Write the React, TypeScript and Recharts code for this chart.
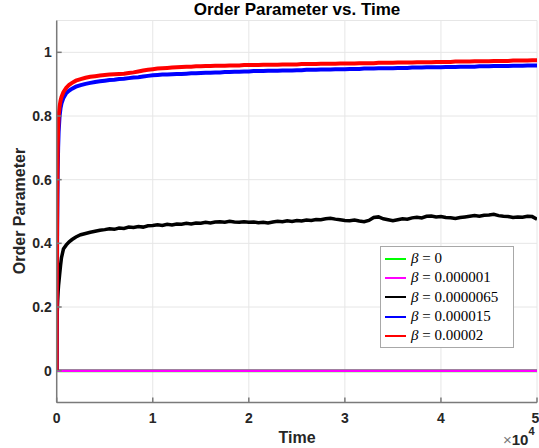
import React from 'react';
import { LineChart, Line, XAxis, YAxis, CartesianGrid, Legend } from 'recharts';

const time = [
  0, 20, 50, 100, 150, 200, 300, 400, 500, 700, 1000, 1300, 1600, 2000, 2500, 3000, 3500, 4000, 4500,
  5000, 5500, 6000, 6500, 7000, 7500, 8000, 8500, 9000, 9500,
  10000, 10500, 11000, 11500, 12000, 12500, 13000, 13500, 14000, 14500,
  15000, 15500, 16000, 16500, 17000, 17500, 18000, 18500, 19000, 19500,
  20000, 20500, 21000, 21500, 22000, 22500, 23000, 23500, 24000, 24500,
  25000, 25500, 26000, 26500, 27000, 27500, 28000, 28500, 29000, 29500,
  30000, 30500, 31000, 31500, 32000, 32500, 33000, 33500, 34000, 34500,
  35000, 35500, 36000, 36500, 37000, 37500, 38000, 38500, 39000, 39500,
  40000, 40500, 41000, 41500, 42000, 42500, 43000, 43500, 44000, 44500,
  45000, 45500, 46000, 46500, 47000, 47500, 48000, 48500, 49000, 49500,
  50000,
];

const black = [
  0, 0.12, 0.18, 0.22, 0.25, 0.27, 0.30, 0.33, 0.355, 0.382, 0.395, 0.405, 0.412, 0.420, 0.427, 0.431, 0.435, 0.438, 0.441,
  0.443, 0.446, 0.444, 0.448, 0.447, 0.451, 0.450, 0.453, 0.451, 0.455,
  0.456, 0.458, 0.456, 0.460, 0.458, 0.461, 0.460, 0.463, 0.461, 0.464,
  0.463, 0.466, 0.464, 0.467, 0.468, 0.466, 0.469, 0.467, 0.466, 0.468,
  0.466, 0.467, 0.465, 0.466, 0.464, 0.467, 0.469, 0.468, 0.471, 0.469,
  0.472, 0.470, 0.473, 0.472, 0.475, 0.474, 0.477, 0.479, 0.476, 0.474,
  0.472, 0.471, 0.473, 0.470, 0.468, 0.472, 0.481, 0.483, 0.477, 0.474,
  0.471, 0.474, 0.477, 0.476, 0.480, 0.482, 0.480, 0.485, 0.486, 0.483,
  0.484, 0.481, 0.480, 0.478, 0.481, 0.483, 0.485, 0.487, 0.485, 0.488,
  0.489, 0.491, 0.487, 0.485, 0.484, 0.481, 0.483, 0.482, 0.485, 0.484,
  0.476,
];

const blue = [
  0, 0.22, 0.45, 0.62, 0.70, 0.75, 0.80, 0.825, 0.84, 0.857, 0.872, 0.880, 0.886, 0.892, 0.897, 0.901, 0.904, 0.907, 0.909,
  0.911, 0.913, 0.914, 0.916, 0.917, 0.919, 0.921, 0.922, 0.924, 0.926,
  0.928, 0.929, 0.930, 0.930, 0.931, 0.932, 0.932, 0.933, 0.934, 0.934,
  0.935, 0.936, 0.936, 0.937, 0.937, 0.938, 0.938, 0.939, 0.939, 0.940,
  0.940, 0.941, 0.941, 0.941, 0.942, 0.942, 0.942, 0.943, 0.943, 0.943,
  0.944, 0.944, 0.945, 0.945, 0.945, 0.946, 0.946, 0.946, 0.947, 0.947,
  0.947, 0.948, 0.948, 0.948, 0.949, 0.949, 0.949, 0.950, 0.950, 0.950,
  0.950, 0.951, 0.951, 0.951, 0.952, 0.952, 0.952, 0.953, 0.953, 0.953,
  0.953, 0.954, 0.954, 0.954, 0.955, 0.955, 0.955, 0.955, 0.956, 0.956,
  0.956, 0.957, 0.957, 0.957, 0.957, 0.958, 0.958, 0.958, 0.959, 0.959,
  0.959,
];

const red = [
  0, 0.30, 0.55, 0.70, 0.76, 0.80, 0.83, 0.848, 0.86, 0.875, 0.889, 0.898, 0.904, 0.911, 0.916, 0.920, 0.923, 0.925, 0.927,
  0.929, 0.930, 0.931, 0.932, 0.933, 0.935, 0.937, 0.940, 0.943, 0.945,
  0.947, 0.949, 0.950, 0.951, 0.952, 0.953, 0.954, 0.955, 0.955, 0.956,
  0.956, 0.957, 0.957, 0.958, 0.958, 0.958, 0.959, 0.959, 0.959, 0.960,
  0.960, 0.960, 0.960, 0.961, 0.961, 0.961, 0.961, 0.962, 0.962, 0.962,
  0.962, 0.963, 0.963, 0.963, 0.963, 0.964, 0.964, 0.964, 0.964, 0.965,
  0.965, 0.965, 0.965, 0.966, 0.966, 0.966, 0.966, 0.967, 0.967, 0.967,
  0.967, 0.968, 0.968, 0.968, 0.968, 0.969, 0.969, 0.969, 0.969, 0.970,
  0.970, 0.970, 0.970, 0.971, 0.971, 0.971, 0.971, 0.972, 0.972, 0.972,
  0.972, 0.973, 0.973, 0.973, 0.973, 0.974, 0.974, 0.974, 0.974, 0.975,
  0.975,
];

const flatTime = [0, 50000];
const green = [0, 0];
const magenta = [0, 0];

const xTicks = [0, 10000, 20000, 30000, 40000, 50000];
const yTicks = [0, 0.2, 0.4, 0.6, 0.8, 1];

const legendItems = [
  { name: '0', color: '#00ff00' },
  { name: '0.000001', color: '#ff00ff' },
  { name: '0.0000065', color: '#000000' },
  { name: '0.000015', color: '#0000ff' },
  { name: '0.00002', color: '#ff0000' },
];

const mainData = time.map((t, i) => ({ t, black: black[i], blue: blue[i], red: red[i] }));
const greenData = flatTime.map((t, i) => ({ t, v: green[i] }));
const magentaData = flatTime.map((t, i) => ({ t, v: magenta[i] }));

const tickStyle = { fontFamily: '"Liberation Sans", Arial, sans-serif', fontSize: 14, fontWeight: 700, fill: '#262626' };
const axisGrey = '#7a7a7a';

const renderLegend = () => (
  <div
    style={{
      border: '1px solid #a8a8a8',
      background: '#ffffff',
      boxSizing: 'border-box',
      width: 134,
      height: 102,
      padding: '2px 0 0 4px',
      fontFamily: '"Liberation Serif", "DejaVu Serif", serif',
      fontSize: 15,
      color: '#000',
    }}
  >
    {legendItems.map((it) => (
      <div key={it.name} style={{ display: 'flex', alignItems: 'center', height: 19.3, whiteSpace: 'nowrap' }}>
        <span style={{ display: 'inline-block', width: 21, height: 2, background: it.color, marginRight: 5 }} />
        <span>
          <i>β</i> = {it.name}
        </span>
      </div>
    ))}
  </div>
);

export default function App() {
  return (
    <div style={{ position: 'absolute', left: 0, top: 0, width: 539, height: 448, background: '#fff', overflow: 'hidden' }}>
      <LineChart width={539} height={448} margin={{ top: 20.5, right: 2, bottom: 15.5, left: 0 }}>
        <CartesianGrid stroke="#e6e6e6" strokeWidth={1} />
        <XAxis
          dataKey="t"
          type="number"
          domain={[0, 50000]}
          ticks={xTicks}
          allowDataOverflow
          height={30}
          tickSize={-5}
          tickMargin={16}
          stroke={axisGrey}
          strokeWidth={1.5}
          tick={tickStyle}
          tickFormatter={(v: number) => String(v / 10000)}
        />
        <XAxis
          xAxisId="top"
          orientation="top"
          dataKey="t"
          type="number"
          domain={[0, 50000]}
          ticks={xTicks}
          allowDataOverflow
          height={0}
          tickSize={-5}
          tick={false}
          stroke={axisGrey}
          strokeWidth={1.5}
        />
        <YAxis
          type="number"
          domain={[-0.1, 1.1]}
          ticks={yTicks}
          allowDataOverflow
          width={56.7}
          tickSize={-5}
          tickMargin={10}
          stroke={axisGrey}
          strokeWidth={1.5}
          tick={tickStyle}
          tickFormatter={(v: number) => String(v)}
        />
        <YAxis
          yAxisId="right"
          orientation="right"
          type="number"
          domain={[-0.1, 1.1]}
          ticks={yTicks}
          allowDataOverflow
          width={0}
          tickSize={-5}
          tick={false}
          stroke={axisGrey}
          strokeWidth={1.5}
        />
        <Line data={greenData} dataKey="v" stroke="#00ff00" strokeWidth={3} dot={false} isAnimationActive={false} />
        <Line data={magentaData} dataKey="v" stroke="#ff00ff" strokeWidth={2.5} dot={false} isAnimationActive={false} />
        <Line data={mainData} dataKey="black" stroke="#000000" strokeWidth={3.5} dot={false} isAnimationActive={false} />
        <Line data={mainData} dataKey="blue" stroke="#0000ff" strokeWidth={4} dot={false} isAnimationActive={false} />
        <Line data={mainData} dataKey="red" stroke="#ff0000" strokeWidth={4} dot={false} isAnimationActive={false} />
        <Legend
          layout="vertical"
          align="center"
          verticalAlign="middle"
          content={renderLegend}
          wrapperStyle={{ left: 380, top: 246, width: 134, height: 102, right: 'auto', bottom: 'auto' }}
        />
      </LineChart>
      <svg
        width={539}
        height={448}
        style={{ position: 'absolute', left: 0, top: 0, pointerEvents: 'none' }}
        fontFamily='"Liberation Sans", Arial, sans-serif'
        fontWeight={700}
      >
        <text x={297} y={15} textAnchor="middle" fontSize={17} fill="#000">
          Order Parameter vs. Time
        </text>
        <text transform="translate(25,211) rotate(-90)" textAnchor="middle" fontSize={16} fill="#262626">
          Order Parameter
        </text>
        <text x={297} y={443} textAnchor="middle" fontSize={16} fill="#262626">
          Time
        </text>
        <text x={503} y={445} fontSize={15} fill="#262626">
          <tspan fontWeight={400} fill="#777">×</tspan>
          <tspan>10</tspan>
          <tspan fontSize={11} dy={-10}>4</tspan>
        </text>
      </svg>
    </div>
  );
}
